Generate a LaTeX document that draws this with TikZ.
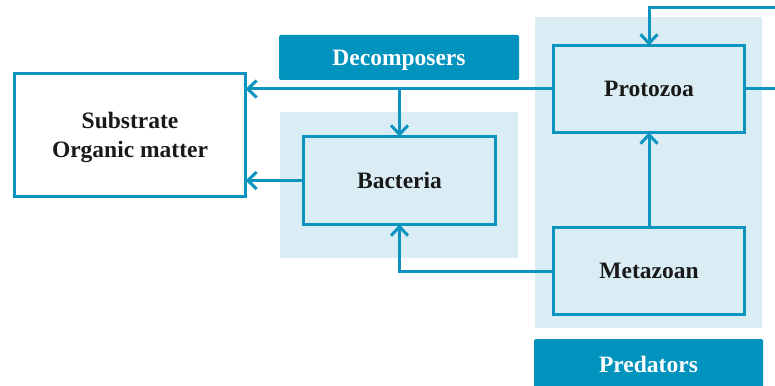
\documentclass[tikz,border=0pt]{standalone}
\usepackage{fontspec}
\setmainfont{Liberation Serif}
\usetikzlibrary{arrows.meta}
\definecolor{flowblue}{HTML}{0A94BF}
\definecolor{tagblue}{HTML}{0093BD}
\definecolor{panelblue}{HTML}{DAEDF5}
\tikzset{
  box/.style={draw=flowblue, line width=3pt, inner sep=0pt, outer sep=0pt,
    align=center, text depth=0pt, font=\fontsize{23.5}{29}\selectfont\bfseries, text=black!90},
  panel/.style={fill=panelblue, draw=none, inner sep=0pt, outer sep=0pt},
  tag/.style={fill=tagblue, draw=none, rounded corners=1.5pt, inner sep=0pt, text depth=0pt,
    font=\fontsize{23.5}{29}\selectfont\bfseries, text=white},
  flow/.style={draw=flowblue, line width=3pt,
    -{Straight Barb[length=9pt, width=17pt, line width=3pt]}},
  wire/.style={draw=flowblue, line width=3pt}
}
\begin{document}
\begin{tikzpicture}[x=1pt, y=-1pt]
  \useasboundingbox (0,0) rectangle (775,385);
  % background panels grouping the organisms
  \node[panel, minimum width=238pt, minimum height=146pt] (decpanel) at (399,185) {};
  \node[panel, minimum width=227pt, minimum height=311pt] (predpanel) at (648.5,172.5) {};
  % group labels
  \node[tag, minimum width=240pt, minimum height=45pt] (dectag) at (399,57.5) {Decomposers};
  \node[tag, minimum width=229pt, minimum height=50pt] (predtag) at (648.5,364) {Predators};
  % boxes
  \node[box, fill=white, minimum width=231pt, minimum height=123pt] (sub) at (130,135)
    {Substrate\\Organic matter};
  \node[box, fill=panelblue, minimum width=192pt, minimum height=88pt] (bact) at (399.5,180.5) {Bacteria};
  \node[box, fill=panelblue, minimum width=191pt, minimum height=87pt] (proto) at (649,89) {Protozoa};
  \node[box, fill=panelblue, minimum width=191pt, minimum height=87pt] (meta) at (649,271) {Metazoan};
  % connectors
  \coordinate (split) at (bact.north |- proto.west);
  \coordinate (outR) at (800,89);
  \coordinate (inR) at (800,8);
  \draw[flow] (proto.west) -- (proto.west -| sub.east);
  \draw[flow] (split) -- (bact.north);
  \draw[flow] (bact.west) -- (bact.west -| sub.east);
  \draw[flow] (meta.west) -| (bact.south);
  \draw[flow] (meta.north) -- (proto.south);
  \draw[wire] (proto.east) -- (outR);
  \draw[flow] (inR) -| (proto.north);
\end{tikzpicture}
\end{document}
